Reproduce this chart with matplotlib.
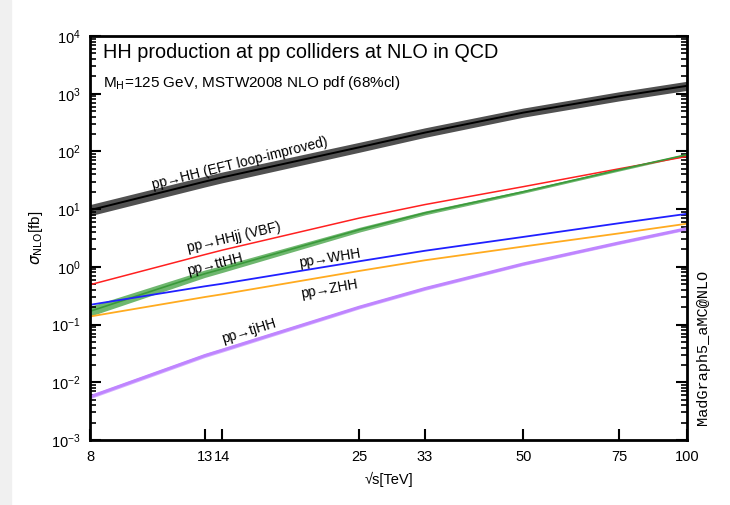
import matplotlib
matplotlib.use("Agg")
import matplotlib.pyplot as plt
import matplotlib.ticker as mticker
from matplotlib.patches import Rectangle
import numpy as np

plt.rcParams["font.family"] = ["Liberation Sans", "DejaVu Sans"]

# collider energies [TeV]
sqrt_s = [8, 13, 14, 25, 33, 50, 75, 100]

# NLO cross sections [fb]
xs_hh = [9.6, 30, 35.5, 118, 212, 470, 900, 1370]
xs_hhjj = [0.49, 1.63, 1.95, 7.0, 12.0, 24.5, 50, 82]
xs_tthh = [0.17, 0.76, 0.92, 4.4, 8.6, 20, 48, 88]
xs_whh = [0.22, 0.46, 0.51, 1.25, 1.9, 3.3, 5.7, 8.3]
xs_zhh = [0.138, 0.30, 0.335, 0.85, 1.3, 2.25, 3.8, 5.6]
xs_tjhh = [0.0056, 0.029, 0.036, 0.20, 0.42, 1.12, 2.6, 4.6]

# multiplicative half-widths of the uncertainty bands
unc_hh = [1.25, 1.24, 1.24, 1.22, 1.21, 1.2, 1.2, 1.2]
unc_tthh = [1.22, 1.16, 1.15, 1.1, 1.08, 1.06, 1.05, 1.04]
unc_tjhh = [1.08, 1.08, 1.08, 1.07, 1.07, 1.06, 1.06, 1.06]

fig = plt.figure(figsize=(7.30, 5.05), dpi=100)
fig.patches.append(Rectangle((0, 0), 11 / 730, 1, transform=fig.transFigure,
                             color="#f0f0f0", zorder=0))
ax = fig.add_axes([90 / 730, 65 / 505, 597 / 730, 404 / 505])

x = np.array(sqrt_s, dtype=float)


def band(vals, unc, color, alpha):
    v = np.array(vals)
    u = np.array(unc)
    ax.fill_between(x, v / u, v * u, color=color, alpha=alpha, lw=0)


band(xs_hh, unc_hh, "#333333", 0.85)
ax.plot(x, xs_hh, color="black", lw=1.4)

ax.plot(x, xs_hhjj, color="#ff2020", lw=1.1)
band(xs_tthh, unc_tthh, "#3f9f3f", 0.75)
ax.plot(x, xs_tthh, color="#3a9a3a", lw=1.2)
ax.plot(x, xs_whh, color="#2020ff", lw=1.3)
ax.plot(x, xs_zhh, color="#ffab1f", lw=1.3)
band(xs_tjhh, unc_tjhh, "#c99aff", 0.8)
ax.plot(x, xs_tjhh, color="#bf85ff", lw=2.2)

ax.set_xscale("log")
ax.set_yscale("log")
ax.set_xlim(8, 100)
ax.set_ylim(1e-3, 1e4)

ax.xaxis.set_major_locator(mticker.FixedLocator(sqrt_s))
ax.xaxis.set_major_formatter(mticker.FixedFormatter([str(v) for v in sqrt_s]))
ax.xaxis.set_minor_locator(mticker.NullLocator())
ax.yaxis.set_major_locator(mticker.LogLocator(base=10, numticks=20))
ax.yaxis.set_minor_locator(mticker.LogLocator(base=10, subs=np.arange(2, 10),
                                              numticks=20))
ax.yaxis.set_minor_formatter(mticker.NullFormatter())

ax.tick_params(axis="both", which="major", direction="in", length=8,
               width=1.5, labelsize=10.5, pad=7)
ax.tick_params(axis="y", which="both", right=True)
ax.tick_params(axis="y", which="minor", direction="in", length=4, width=1.2)
ax.tick_params(axis="x", top=False)
for sp in ax.spines.values():
    sp.set_linewidth(2)

ax.set_xlabel("√s[TeV]", fontsize=10.5, labelpad=6)
ax.set_ylabel(r"$\sigma_{\mathrm{NLO}}$[fb]", fontsize=11, labelpad=4)

ax.text(0.022, 0.982, "HH production at pp colliders at NLO in QCD",
        transform=ax.transAxes, fontsize=14.3, va="top", ha="left")
ax.text(0.022, 0.905, r"M$_\mathrm{H}$=125 GeV, MSTW2008 NLO pdf (68%cl)",
        transform=ax.transAxes, fontsize=11, va="top", ha="left")

labels = [
    ("pp→HH (EFT loop-improved)", 15.1, 63, 14),
    ("pp→HHjj (VBF)", 14.7, 3.2, 13),
    ("pp→ttHH", 13.6, 1.12, 14),
    ("pp→WHH", 22.1, 1.43, 9),
    ("pp→ZHH", 22.0, 0.41, 10),
    ("pp→tjHH", 15.7, 0.077, 17),
]
for txt, tx, ty, rot in labels:
    ax.text(tx, ty, txt, fontsize=10, rotation=rot, ha="center",
            va="center", rotation_mode="anchor")

fig.text(703 / 730, 1 - 347 / 505, "MadGraph5_aMC@NLO", rotation=90,
         family=["Liberation Mono", "DejaVu Sans Mono"], fontsize=11,
         ha="center", va="center")

fig.savefig("out.png", dpi=100)
